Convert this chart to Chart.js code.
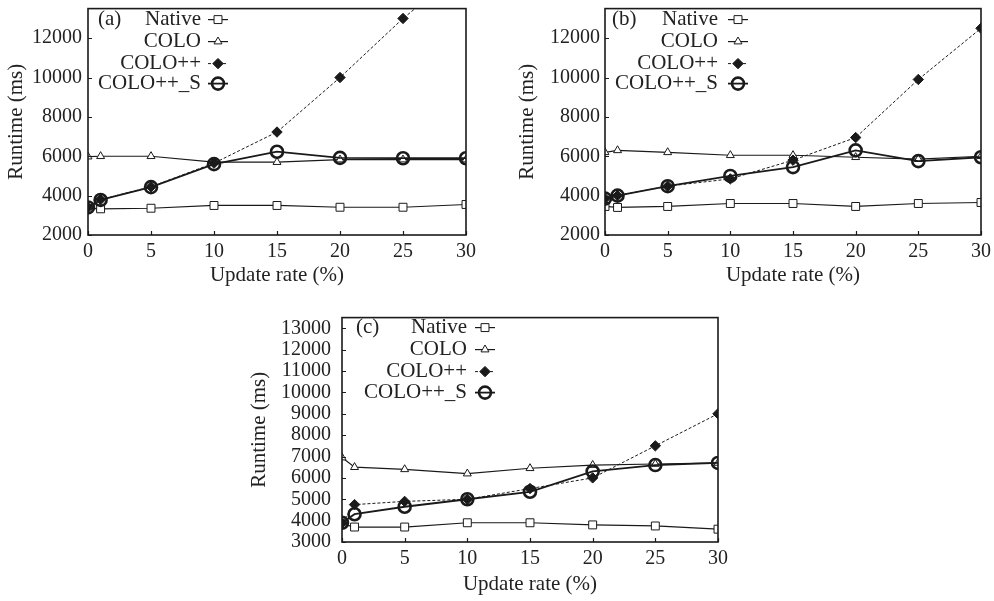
<!DOCTYPE html>
<html>
<head>
<meta charset="utf-8">
<script src="https://cdn.jsdelivr.net/npm/chart.js@4.4.1/dist/chart.umd.min.js"></script>
<style>
  html, body { margin: 0; padding: 0; background: #fff; overflow: hidden; }
  body { width: 994px; height: 601px; position: relative; }
  .panel { position: absolute; }
</style>
</head>
<body>
<div class="panel" id="pa" style="left:0px;top:0px;"><canvas id="ca" width="480" height="292"></canvas></div>
<div class="panel" id="pb" style="left:511px;top:0px;"><canvas id="cb" width="483" height="292"></canvas></div>
<div class="panel" id="pc" style="left:243px;top:309px;"><canvas id="cc" width="490" height="292"></canvas></div>
<script>
// ---------- data ----------
const updateRates = [0, 1, 5, 10, 15, 20, 25, 30];
const seriesNames = ['Native', 'COLO', 'COLO++', 'COLO++_S'];
const xTickValues = [0, 5, 10, 15, 20, 25, 30];
const yTicksAB = [2000, 4000, 6000, 8000, 10000, 12000];
const yTicksC = [3000, 4000, 5000, 6000, 7000, 8000, 9000, 10000, 11000, 12000, 13000];

// (a)
const nativeA   = [3350, 3330, 3360, 3500, 3500, 3410, 3410, 3550];
const coloA     = [5980, 6000, 6000, 5700, 5700, 5830, 5830, 5830];
const coloPPA   = [3400, 3800, 4450, 5650, 7230, 10000, 13000, 15600];
const coloPPSA  = [3400, 3780, 4430, 5600, 6230, 5920, 5900, 5900];
// (b)
const nativeB   = [3450, 3400, 3450, 3600, 3600, 3450, 3600, 3650];
const coloB     = [6200, 6300, 6200, 6050, 6050, 5950, 5850, 6000];
const coloPPB   = [3850, 4000, 4480, 4850, 5800, 6950, 9900, 12500];
const coloPPSB  = [3850, 4000, 4480, 5000, 5450, 6300, 5750, 5950];
// (c)
const nativeC   = [3850, 3700, 3700, 3900, 3900, 3800, 3750, 3600];
const coloC     = [6950, 6500, 6400, 6200, 6450, 6600, 6650, 6700];
const coloPPC   = [3900, 4750, 4900, 5000, 5500, 6000, 7500, 9000];
const coloPPSC  = [3900, 4300, 4650, 5000, 5350, 6300, 6600, 6700];

// ---------- styling ----------
const FONT = "'Liberation Serif', 'Times New Roman', serif";
const INK = '#1a1a1a';
const TXT = '#222';

const styles = [
  { pointStyle: 'rect', radius: 5.6, borderWidth: 1, fill: '#fff', lineWidth: 1.2, dash: [], order: 4 },
  { pointStyle: 'triangle', radius: 4.6, borderWidth: 1, fill: '#fff', lineWidth: 1.2, dash: [], order: 3 },
  { pointStyle: 'rectRot', radius: 5.2, borderWidth: 1, fill: INK, lineWidth: 1, dash: [3, 2], order: 2 },
  { pointStyle: 'circle', radius: 6, borderWidth: 2.6, fill: 'rgba(0,0,0,0)', lineWidth: 1.8, dash: [], order: 1 }
];

function makeDatasets(arrs) {
  return arrs.map((vals, i) => {
    const s = styles[i];
    return {
      label: seriesNames[i],
      data: updateRates.map((x, k) => ({ x: x, y: vals[k] })),
      borderColor: INK,
      backgroundColor: s.fill,
      borderWidth: s.lineWidth,
      borderDash: s.dash,
      pointStyle: s.pointStyle,
      pointRadius: s.radius,
      pointBorderWidth: s.borderWidth,
      pointBackgroundColor: s.fill,
      pointBorderColor: INK,
      tension: 0,
      order: s.order
    };
  });
}

const decorPlugin = {
  id: 'decor',
  afterDraw(chart) {
    const cfg = chart.options.plugins.decor;
    const { ctx, chartArea: ca } = chart;
    const xs = chart.scales.x, ys = chart.scales.y;
    ctx.save();
    // inner tick marks
    ctx.strokeStyle = INK;
    ctx.lineWidth = 1.2;
    ctx.setLineDash([]);
    ctx.beginPath();
    ys.ticks.forEach(t => {
      const py = Math.round(ys.getPixelForValue(t.value)) + 0.5;
      ctx.moveTo(ca.left, py); ctx.lineTo(ca.left + 4, py);
    });
    xs.ticks.forEach(t => {
      const px = Math.round(xs.getPixelForValue(t.value)) + 0.5;
      ctx.moveTo(px, ca.bottom); ctx.lineTo(px, ca.bottom - 4);
    });
    ctx.stroke();
    // frame
    ctx.lineWidth = 1.6;
    ctx.strokeRect(ca.left, ca.top, ca.right - ca.left, ca.bottom - ca.top);
    // panel label
    ctx.fillStyle = TXT;
    ctx.font = '21px ' + FONT;
    ctx.textBaseline = 'middle';
    ctx.textAlign = 'left';
    ctx.fillText(cfg.panel, ca.left + cfg.panelX, ca.top + cfg.rows[0]);
    // legend
    chart.data.datasets.forEach((ds, i) => {
      const y = ca.top + cfg.rows[i];
      const tx = ca.left + cfg.textRight;
      const mx = ca.left + cfg.markerX;
      ctx.fillStyle = TXT;
      ctx.textAlign = 'right';
      ctx.fillText(ds.label, tx, y);
      ctx.strokeStyle = INK;
      ctx.lineWidth = ds.borderWidth;
      ctx.setLineDash(ds.borderDash);
      ctx.beginPath();
      ctx.moveTo(mx - 10, y); ctx.lineTo(mx + 10, y);
      ctx.stroke();
      ctx.setLineDash([]);
      ctx.fillStyle = ds.pointBackgroundColor;
      ctx.strokeStyle = INK;
      ctx.lineWidth = ds.pointBorderWidth;
      Chart.helpers.drawPoint(ctx, { pointStyle: ds.pointStyle, radius: ds.pointRadius, rotation: 0, borderWidth: ds.pointBorderWidth }, mx, y);
    });
    ctx.restore();
  }
};

function makeChart(id, arrs, p) {
  return new Chart(document.getElementById(id), {
    type: 'line',
    data: { datasets: makeDatasets(arrs) },
    plugins: [decorPlugin],
    options: {
      responsive: false,
      animation: false,
      devicePixelRatio: 1,
      layout: { padding: { left: 0, top: 4, right: p.padRight, bottom: 0 } },
      plugins: {
        legend: { display: false },
        tooltip: { enabled: false },
        decor: p.decor
      },
      scales: {
        x: {
          type: 'linear',
          min: 0, max: 30,
          afterBuildTicks: (s) => { s.ticks = xTickValues.map(v => ({ value: v })); },
          afterFit: (s) => { s.height = p.xAxisHeight; s.paddingLeft = 0; s.paddingRight = 0; },
          grid: { display: false, drawTicks: false },
          border: { display: false },
          ticks: { color: TXT, font: { family: FONT, size: 20 }, padding: p.xTickPad, maxRotation: 0, autoSkip: false,
                   callback: (v) => String(v) },
          title: { display: true, text: 'Update rate (%)', color: TXT, font: { family: FONT, size: 21 }, padding: { top: 0, bottom: 4 } }
        },
        y: {
          type: 'linear',
          min: p.yMin, max: 13500,
          afterBuildTicks: (s) => { s.ticks = p.yTicks.map(v => ({ value: v })); },
          afterFit: (s) => { s.width = p.yAxisWidth; s.paddingTop = 0; s.paddingBottom = 0; },
          grid: { display: false, drawTicks: false },
          border: { display: false },
          ticks: { color: TXT, font: { family: FONT, size: 20 }, padding: p.yTickPad, autoSkip: false,
                   callback: (v) => String(v) },
          title: { display: true, text: 'Runtime (ms)', color: TXT, font: { family: FONT, size: 21 }, padding: { top: 4, bottom: 0 } }
        }
      }
    }
  });
}

makeChart('ca', [nativeA, coloA, coloPPA, coloPPSA], {
  padRight: 14, xAxisHeight: 57, yAxisWidth: 88, yTickPad: 6, xTickPad: 5, yMin: 2000, yTicks: yTicksAB,
  decor: { panel: '(a)', panelX: 10, textRight: 113, markerX: 130, rows: [11, 33, 55, 75] }
});
makeChart('cb', [nativeB, coloB, coloPPB, coloPPSB], {
  padRight: 13, xAxisHeight: 57, yAxisWidth: 94, yTickPad: 5, xTickPad: 5, yMin: 2000, yTicks: yTicksAB,
  decor: { panel: '(b)', panelX: 7, textRight: 113, markerX: 133, rows: [11, 33, 55, 75] }
});
makeChart('cc', [nativeC, coloC, coloPPC, coloPPSC], {
  padRight: 15, xAxisHeight: 59, yAxisWidth: 99, yTickPad: 11, xTickPad: 5, yMin: 3000, yTicks: yTicksC,
  decor: { panel: '(c)', panelX: 14, textRight: 125, markerX: 143, rows: [10, 32, 54, 75] }
});
</script>
</body>
</html>
